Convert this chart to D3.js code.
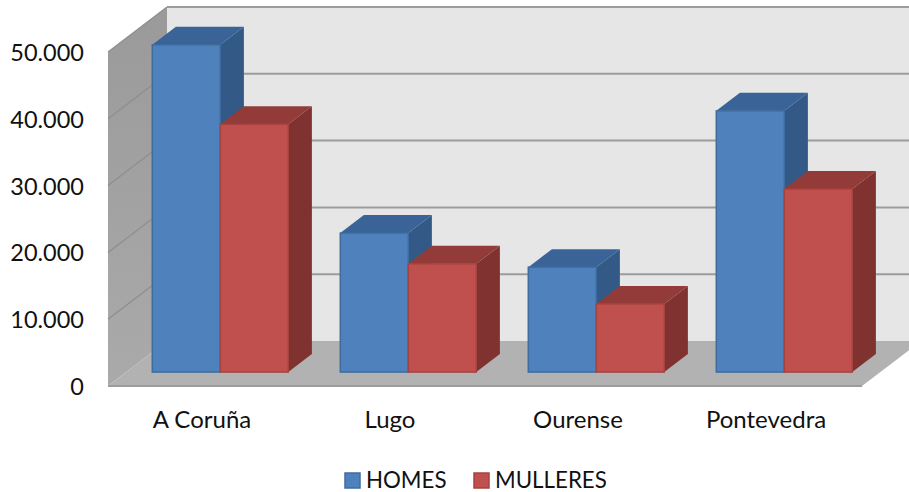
<!DOCTYPE html>
<html>
<head>
<meta charset="utf-8">
<script src="https://cdn.jsdelivr.net/npm/d3@7"></script>
<style>
  html, body { margin: 0; padding: 0; background: #fff; }
  svg { display: block; }
  text { font-family: Lato, "Open Sans", sans-serif; fill: #111; }
</style>
</head>
<body>
<svg id="chart"></svg>
<script>
const provinces = ["A Coruña", "Lugo", "Ourense", "Pontevedra"];
const homes = [49000, 20800, 15700, 39100];
const mulleres = [37100, 16200, 10200, 27400];
const seriesNames = ["HOMES", "MULLERES"];
const axisTicks = [0, 10000, 20000, 30000, 40000, 50000];

const width = 909, height = 492;

const svg = d3.select("#chart")
  .attr("width", width)
  .attr("height", height);

// front plane of the 3d box
const x = d3.scaleBand().domain(provinces).range([108, 860]);
const y = d3.scaleLinear().domain([0, 50000]).range([386, 52]);

// depth of the box, and where the bars stand inside it
const depthX = 59, depthY = -45;
const barStart = 0.31, barDepth = 0.4;
const barWidth = 68;

// project a point: value on the front plane pushed back by d (0..1)
function px(xv, d) { return xv + depthX * d; }
function py(v, d) { return y(v) + depthY * d; }
function poly(points) { return points.map(p => p.join(",")).join(" "); }

const defs = svg.append("defs");
const sideGrad = defs.append("linearGradient")
  .attr("id", "side-wall")
  .attr("x1", 0).attr("y1", 0).attr("x2", 0).attr("y2", 1);
sideGrad.append("stop").attr("offset", "0%").attr("stop-color", "#9a9a9a");
sideGrad.append("stop").attr("offset", "100%").attr("stop-color", "#aaaaaa");

const x0 = x.range()[0], x1 = x.range()[1] + 2;

// back wall
svg.append("polygon")
  .attr("points", poly([[px(x0, 1), py(50000, 1)], [px(x1, 1), py(50000, 1)], [px(x1, 1), py(0, 1)], [px(x0, 1), py(0, 1)]]))
  .attr("fill", "#e6e6e6");

// side wall
svg.append("polygon")
  .attr("points", poly([[px(x0, 0), py(50000, 0)], [px(x0, 1), py(50000, 1)], [px(x0, 1), py(0, 1)], [px(x0, 0), py(0, 0)]]))
  .attr("fill", "url(#side-wall)");

// floor
svg.append("polygon")
  .attr("points", poly([[px(x0, 0), py(0, 0)], [px(x0, 1), py(0, 1)], [px(x1, 1), py(0, 1)], [px(x1, 0), py(0, 0)]]))
  .attr("fill", "#b2b2b2");

// gridlines, along the back wall and down the side wall
const grid = svg.append("g")
  .attr("fill", "none")
  .attr("stroke", "#9c9c9c")
  .attr("stroke-width", 2);

axisTicks.forEach(t => {
  if (t > 0) {
    grid.append("line")
      .attr("x1", px(x0, 1)).attr("y1", py(t, 1))
      .attr("x2", px(x1, 1)).attr("y2", py(t, 1));
    grid.append("line")
      .attr("x1", px(x0, 0)).attr("y1", py(t, 0))
      .attr("x2", px(x0, 1)).attr("y2", py(t, 1))
      .attr("stroke", "#8e8e8e")
      .attr("stroke-width", 1.2);
  }
});
grid.append("line")
  .attr("x1", px(x0, 0)).attr("y1", py(0, 0))
  .attr("x2", px(x1, 0)).attr("y2", py(0, 0));

const colors = [
  { front: "#4f81bd", side: "#335a86", top: "#3a6497", edge: "#3f6c9f" },
  { front: "#c0504d", side: "#7f3230", top: "#933b38", edge: "#a54340" }
];

function drawBar(parent, left, value, c) {
  const right = left + barWidth;
  const d0 = barStart, d1 = barStart + barDepth;
  const g = parent.append("g");
  // side face
  g.append("polygon")
    .attr("points", poly([[px(right, d0), py(value, d0)], [px(right, d1), py(value, d1)], [px(right, d1), py(0, d1)], [px(right, d0), py(0, d0)]]))
    .attr("fill", c.side);
  // top face
  g.append("polygon")
    .attr("points", poly([[px(left, d0), py(value, d0)], [px(left, d1), py(value, d1)], [px(right, d1), py(value, d1)], [px(right, d0), py(value, d0)]]))
    .attr("fill", c.top);
  // front face
  g.append("rect")
    .attr("x", px(left, d0))
    .attr("y", py(value, d0))
    .attr("width", barWidth)
    .attr("height", py(0, d0) - py(value, d0))
    .attr("fill", c.front)
    .attr("stroke", c.edge)
    .attr("stroke-width", 1.5);
}

const bars = svg.append("g").attr("class", "bars");
provinces.forEach((p, i) => {
  const mid = x(p) + x.bandwidth() / 2;
  drawBar(bars, mid - barWidth, homes[i], colors[0]);
  drawBar(bars, mid, mulleres[i], colors[1]);
});

// value axis
const locale = d3.formatLocale({ decimal: ",", thousands: ".", grouping: [3], currency: ["", ""] });
const yAxis = d3.axisLeft(y)
  .tickValues(axisTicks)
  .tickFormat(locale.format(",d"))
  .tickSize(0)
  .tickPadding(24);

svg.append("g")
  .attr("transform", `translate(${x0},1)`)
  .call(yAxis)
  .call(g => g.select(".domain").remove())
  .selectAll("text")
  .style("font-size", "23.5px")
  .style("font-family", "Lato, 'Open Sans', sans-serif");

// category axis
const xAxis = d3.axisBottom(x).tickSize(0).tickPadding(25);
svg.append("g")
  .attr("transform", `translate(0,${y(0)})`)
  .call(xAxis)
  .call(g => g.select(".domain").remove())
  .selectAll("text")
  .style("font-size", "24px")
  .style("font-family", "Lato, 'Open Sans', sans-serif");

// legend
const legendX = [344, 473];
const legend = svg.append("g").attr("class", "legend");
seriesNames.forEach((name, i) => {
  legend.append("rect")
    .attr("x", legendX[i] + 1).attr("y", 473)
    .attr("width", 15).attr("height", 15)
    .attr("fill", colors[i].front)
    .attr("stroke", colors[i].edge)
    .attr("stroke-width", 1.5);
  legend.append("text")
    .attr("x", legendX[i] + 22)
    .attr("y", 487.5)
    .style("font-size", "22.3px")
    .text(name);
});
</script>
</body>
</html>
